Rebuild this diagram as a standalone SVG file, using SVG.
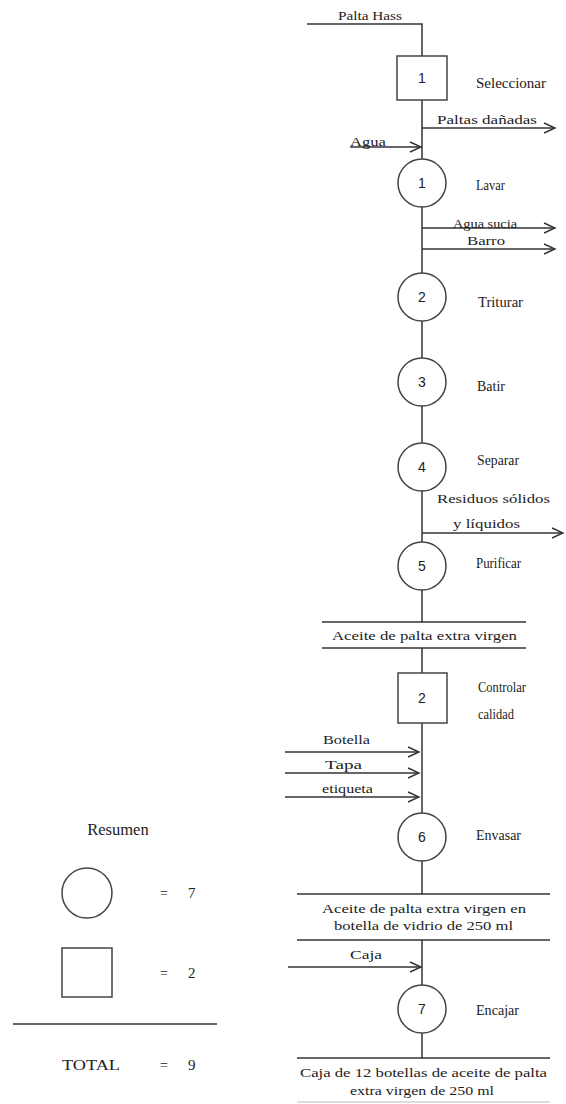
<svg xmlns="http://www.w3.org/2000/svg" width="566" height="1104" viewBox="0 0 566 1104">
  <style>
    .ln { stroke: #333; stroke-width: 1.5; fill: none; }
    .op { stroke: #444; stroke-width: 1.5; fill: #fff; }
    .t  { font-family: "Liberation Serif", "Times New Roman", serif; fill: #222; }
    .lbl { font-size: 14.5px; }
    .flw { font-size: 13px; }
    .num { font-family: "Liberation Sans", Arial, sans-serif; font-size: 14px; fill: #222; text-anchor: middle; }
    .mid { text-anchor: middle; }
  </style>
  <defs>
    <marker id="arr" markerUnits="userSpaceOnUse" markerWidth="14" markerHeight="12" refX="12" refY="6" orient="auto">
      <path d="M1,1 L12,6 L1,11" fill="none" stroke="#333" stroke-width="1.4"/>
    </marker>
  </defs>
  <rect width="566" height="1104" fill="#fff"/>

  <!-- main flow line and side streams -->
  <g id="connectors">
    <polyline class="ln" points="307,24 422,24 422,56"/>
    <line class="ln" x1="422" y1="100" x2="422" y2="159"/>
    <line class="ln" x1="422" y1="207" x2="422" y2="273"/>
    <line class="ln" x1="422" y1="321" x2="422" y2="358"/>
    <line class="ln" x1="422" y1="406" x2="422" y2="443"/>
    <line class="ln" x1="422" y1="491" x2="422" y2="542"/>
    <line class="ln" x1="422" y1="590" x2="422" y2="622"/>
    <line class="ln" x1="422" y1="648" x2="422" y2="673"/>
    <line class="ln" x1="422" y1="723" x2="422" y2="813"/>
    <line class="ln" x1="422" y1="861" x2="422" y2="894"/>
    <line class="ln" x1="422" y1="940" x2="422" y2="985"/>
    <line class="ln" x1="422" y1="1033" x2="422" y2="1058"/>

    <line class="ln" x1="422" y1="128" x2="555" y2="128" marker-end="url(#arr)"/>
    <line class="ln" x1="350" y1="147" x2="421" y2="147" marker-end="url(#arr)"/>
    <line class="ln" x1="422" y1="228" x2="555" y2="228" marker-end="url(#arr)"/>
    <line class="ln" x1="422" y1="249" x2="555" y2="249" marker-end="url(#arr)"/>
    <line class="ln" x1="422" y1="533" x2="563" y2="533" marker-end="url(#arr)"/>
    <line class="ln" x1="285" y1="752" x2="419" y2="752" marker-end="url(#arr)"/>
    <line class="ln" x1="285" y1="773" x2="419" y2="773" marker-end="url(#arr)"/>
    <line class="ln" x1="285" y1="797" x2="419" y2="797" marker-end="url(#arr)"/>
    <line class="ln" x1="288" y1="967" x2="421" y2="967" marker-end="url(#arr)"/>

    <text class="t flw" x="338" y="20" textLength="64" lengthAdjust="spacingAndGlyphs">Palta Hass</text>
    <text class="t flw" x="437" y="124" textLength="100" lengthAdjust="spacingAndGlyphs">Paltas dañadas</text>
    <text class="t flw" x="350" y="146" textLength="36" lengthAdjust="spacingAndGlyphs">Agua</text>
    <text class="t flw" x="453" y="228" textLength="64" lengthAdjust="spacingAndGlyphs">Agua sucia</text>
    <text class="t flw" x="467" y="245" textLength="38" lengthAdjust="spacingAndGlyphs">Barro</text>
    <text class="t flw" x="437" y="503" textLength="113" lengthAdjust="spacingAndGlyphs">Residuos sólidos</text>
    <text class="t flw" x="453" y="528" textLength="67" lengthAdjust="spacingAndGlyphs">y líquidos</text>
    <text class="t flw" x="323" y="744" textLength="47" lengthAdjust="spacingAndGlyphs">Botella</text>
    <text class="t flw" x="325" y="769" textLength="37" lengthAdjust="spacingAndGlyphs">Tapa</text>
    <text class="t flw" x="322" y="793" textLength="51" lengthAdjust="spacingAndGlyphs">etiqueta</text>
    <text class="t flw" x="350" y="959" textLength="32" lengthAdjust="spacingAndGlyphs">Caja</text>
  </g>

  <g id="op-seleccionar">
    <rect class="op" x="397" y="56" width="50" height="44"/>
    <text class="num" x="422" y="83">1</text>
    <text class="t lbl" x="476" y="88" textLength="70" lengthAdjust="spacingAndGlyphs">Seleccionar</text>
  </g>
  <g id="op-lavar">
    <circle class="op" cx="422" cy="183" r="24"/>
    <text class="num" x="422" y="188">1</text>
    <text class="t lbl" x="476" y="190" textLength="29" lengthAdjust="spacingAndGlyphs">Lavar</text>
  </g>
  <g id="op-triturar">
    <circle class="op" cx="422" cy="297" r="24"/>
    <text class="num" x="422" y="302">2</text>
    <text class="t lbl" x="478" y="307" textLength="45" lengthAdjust="spacingAndGlyphs">Triturar</text>
  </g>
  <g id="op-batir">
    <circle class="op" cx="422" cy="382" r="24"/>
    <text class="num" x="422" y="387">3</text>
    <text class="t lbl" x="477" y="391" textLength="28" lengthAdjust="spacingAndGlyphs">Batir</text>
  </g>
  <g id="op-separar">
    <circle class="op" cx="422" cy="467" r="24"/>
    <text class="num" x="422" y="472">4</text>
    <text class="t lbl" x="477" y="465" textLength="42" lengthAdjust="spacingAndGlyphs">Separar</text>
  </g>
  <g id="op-purificar">
    <circle class="op" cx="422" cy="566" r="24"/>
    <text class="num" x="422" y="571">5</text>
    <text class="t lbl" x="476" y="568" textLength="45" lengthAdjust="spacingAndGlyphs">Purificar</text>
  </g>
  <g id="prod-aceite">
    <line class="ln" x1="322" y1="622" x2="526" y2="622"/>
    <line class="ln" x1="322" y1="648" x2="526" y2="648"/>
    <text class="t flw" x="332" y="640" textLength="185" lengthAdjust="spacingAndGlyphs">Aceite de palta extra virgen</text>
  </g>
  <g id="insp-calidad">
    <rect class="op" x="398" y="673" width="49" height="50"/>
    <text class="num" x="422" y="703">2</text>
    <text class="t lbl" x="478" y="692" textLength="48" lengthAdjust="spacingAndGlyphs">Controlar</text>
    <text class="t lbl" x="478" y="719" textLength="36" lengthAdjust="spacingAndGlyphs">calidad</text>
  </g>
  <g id="op-envasar">
    <circle class="op" cx="422" cy="837" r="24"/>
    <text class="num" x="422" y="842">6</text>
    <text class="t lbl" x="476" y="840" textLength="45" lengthAdjust="spacingAndGlyphs">Envasar</text>
  </g>
  <g id="prod-botella">
    <line class="ln" x1="297" y1="894" x2="550" y2="894"/>
    <line class="ln" x1="297" y1="940" x2="550" y2="940"/>
    <text class="t flw" x="322" y="913" textLength="204" lengthAdjust="spacingAndGlyphs">Aceite de palta extra virgen en</text>
    <text class="t flw" x="334" y="930" textLength="179" lengthAdjust="spacingAndGlyphs">botella de vidrio de 250 ml</text>
  </g>
  <g id="op-encajar">
    <circle class="op" cx="422" cy="1009" r="24"/>
    <text class="num" x="422" y="1014">7</text>
    <text class="t lbl" x="476" y="1015" textLength="43" lengthAdjust="spacingAndGlyphs">Encajar</text>
  </g>
  <g id="prod-caja">
    <line class="ln" x1="297" y1="1058" x2="550" y2="1058"/>
    <line x1="297" y1="1102" x2="550" y2="1102" stroke="#bbb" stroke-width="1"/>
    <text class="t flw" x="300" y="1077" textLength="247" lengthAdjust="spacingAndGlyphs">Caja de 12 botellas de aceite de palta</text>
    <text class="t flw" x="350" y="1095" textLength="144" lengthAdjust="spacingAndGlyphs">extra virgen de 250 ml</text>
  </g>

  <!-- summary table -->
  <g id="resumen">
    <text class="t mid" x="118" y="835" font-size="16.5">Resumen</text>
    <circle class="op" cx="87" cy="893" r="25"/>
    <text class="t" x="160" y="898" font-size="14">=</text>
    <text class="t" x="188" y="898" font-size="15">7</text>
    <rect class="op" x="62" y="948" width="50" height="49"/>
    <text class="t" x="160" y="978" font-size="14">=</text>
    <text class="t" x="188" y="978" font-size="15">2</text>
    <line class="ln" x1="13" y1="1024" x2="217" y2="1024"/>
    <text class="t" x="62" y="1070" font-size="14" textLength="58" lengthAdjust="spacingAndGlyphs">TOTAL</text>
    <text class="t" x="160" y="1070" font-size="14">=</text>
    <text class="t" x="188" y="1070" font-size="15">9</text>
  </g>
</svg>
